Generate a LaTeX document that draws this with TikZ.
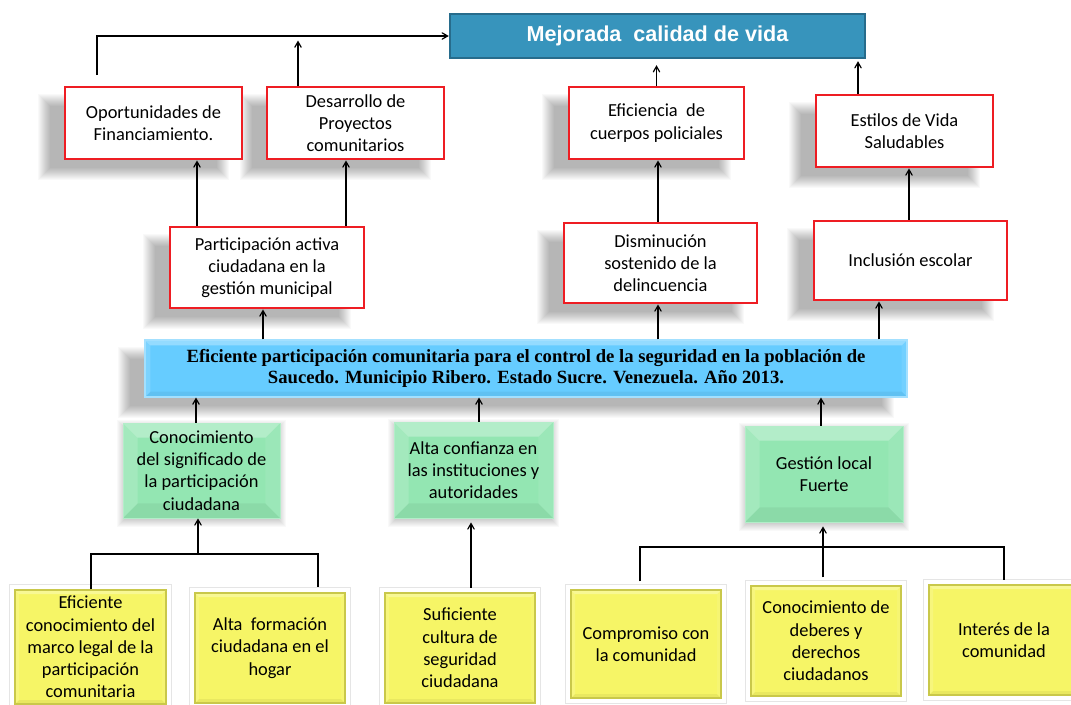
\documentclass[tikz,border=0pt]{standalone}
\usepackage{fontspec}
\setmainfont{Carlito}
\newfontfamily\arialfont{Liberation Sans}
\newfontfamily\timesfont{Liberation Serif}
\usetikzlibrary{shapes}
\usetikzlibrary{arrows}
\usetikzlibrary{calc,backgrounds}

\definecolor{rojo}{HTML}{EE1D23}
\definecolor{azul}{HTML}{3794BC}
\definecolor{azulb}{HTML}{276C8C}
\definecolor{celeste}{HTML}{66CCFF}
\definecolor{verde}{HTML}{93E6B2}
\definecolor{amarillo}{HTML}{F6F566}
\definecolor{amarillob}{HTML}{C9C84A}

\begin{document}
\begin{tikzpicture}[x=.75pt,y=-.75pt,
	every node/.style={align=center,inner sep=0pt,font=\fontsize{13.8}{16.7}\selectfont},
	sz/.style 2 args={minimum width=#1*.75pt,minimum height=#2*.75pt},
	bisel/.style={path picture={
		\coordinate (bnw) at (path picture bounding box.north west);
		\coordinate (bse) at (path picture bounding box.south east);
		\coordinate (bne) at (bnw -| bse);
		\coordinate (bsw) at (bse -| bnw);
		\fill[white,opacity=.3] (bnw) -- (bne) -- ([shift={(-#1,-#1)}]bne) -- ([shift={(#1,-#1)}]bnw) -- cycle;
		\fill[white,opacity=.15] (bnw) -- (bsw) -- ([shift={(#1,#1)}]bsw) -- ([shift={(#1,-#1)}]bnw) -- cycle;
		\fill[white,opacity=.08] (bse) -- (bne) -- ([shift={(-#1,-#1)}]bne) -- ([shift={(-#1,#1)}]bse) -- cycle;
		\fill[black,opacity=.05] (bse) -- (bsw) -- ([shift={(#1,#1)}]bsw) -- ([shift={(-#1,#1)}]bse) -- cycle;
	}},
	efecto/.style={draw=rojo,line width=2.2pt,fill=white},
	causa/.style={fill=verde,draw=verde!70!white,line width=.6pt,bisel=11pt},
	raiz/.style={fill=amarillo,draw=amarillob,line width=.8pt,bisel=3pt,
		preaction={draw=black!10,line width=8.5pt},preaction={draw=white,line width=7.5pt}},
	flecha/.style={->,>=angle 60,line width=.9pt},
	linea/.style={line width=.9pt}
	]
	\path[use as bounding box] (0,0) rectangle (1071,704);

	\node[fill=azul,draw=azulb,line width=1.8pt,sz={415}{44},text=white,font=\arialfont\bfseries\fontsize{16.2}{19}\selectfont]
		(titulo) at (657.5,36) {Mejorada\ \ calidad de vida};

	\node[efecto,sz={177}{72}] (opor) at (153.5,123) {Oportunidades de\\Financiamiento.};
	\node[efecto,sz={177}{72}] (desa) at (355.5,123) {Desarrollo de\\Proyectos\\comunitarios};
	\node[efecto,sz={175}{72}] (efic) at (656.5,123) {Eficiencia\ \ de\\cuerpos policiales};
	\node[efecto,sz={177}{72}] (esti) at (904.5,131) {Estilos de Vida\\Saludables};
	\node[efecto,sz={194}{81}] (part) at (267,267.5) {Participación activa\\ciudadana en la\\gestión municipal};
	\node[efecto,sz={193}{80}] (dism) at (660.5,263) {Disminución\\sostenido de la\\delincuencia};
	\node[efecto,sz={193}{79}] (incl) at (910.5,260.5) {Inclusión escolar};

	\node[fill=celeste,draw=celeste!60!white,line width=.8pt,sz={762}{57},bisel=4pt,
		font=\timesfont\bfseries\fontsize{14}{15.8}\selectfont]
		(cent) at (526,368.5) {Eficiente participación comunitaria para el control de la seguridad en la población de\\Saucedo. Municipio Ribero. Estado Sucre. Venezuela. Año 2013.};

	\node[causa,sz={157}{95}] (cono) at (201.5,470.5) {Conocimiento\\del significado de\\la participación\\ciudadana};
	\node[causa,sz={159}{96}] (alta) at (473.5,470) {Alta confianza en\\las instituciones y\\autoridades};
	\node[causa,sz={158}{96}] (gest) at (824,474) {Gestión local\\Fuerte};

	\node[raiz,sz={151}{114}] (efi) at (90.5,647) {Eficiente\\conocimiento del\\marco legal de la\\participación\\comunitaria};
	\node[raiz,sz={150}{110}] (alfo) at (270,648) {Alta\ \ formación\\ciudadana en el\\hogar};
	\node[raiz,sz={150}{110}] (sufi) at (460,648) {Suficiente\\cultura de\\seguridad\\ciudadana};
	\node[raiz,sz={150}{108}] (comp) at (646,644) {Compromiso con\\la comunidad};
	\node[raiz,sz={150}{110}] (codd) at (826,641) {Conocimiento de\\deberes y\\derechos\\ciudadanos};
	\node[raiz,sz={150}{110}] (inte) at (1004,640) {Interés de la\\comunidad};

	% sombras difusas
	\begin{scope}[on background layer]
		\fill[white] (0,0) rectangle (1071,704);
		\foreach \n/\dx/\dy/\b in {opor/-20/14/11,desa/-20/14/11,efic/-20/14/11,esti/-20/14/11,
				part/-20/14/11,dism/-20/14/11,incl/-20/14/11,cent/-20/14/11,cono/0/3/3,alta/0/3/3,gest/0/3/3}
			\foreach \k [evaluate=\k as \s using \k*\b/6] in {-6,...,6}
				\fill[black,opacity=.024] ($(\n.north west)+(\dx+\s,\dy+\s)$)
					rectangle ($(\n.south east)+(\dx-\s,\dy-\s)$);
	\end{scope}

	\coordinate (ini) at (97,75);
	\draw[flecha] (ini) |- (titulo.west);
	\draw[flecha] (298,0 |- desa.north) -- ++(0,-45);
	\draw[flecha,shorten >=4.5pt] (efic.north) -- (efic.north |- titulo.south);
	\draw[flecha,shorten >=1.5pt] (858,0 |- esti.north) -- (858,0 |- titulo.south);

	\draw[flecha] (197,0 |- part.north) -- (197,0 |- opor.south);
	\draw[flecha] (346,0 |- part.north) -- (346,0 |- desa.south);
	\draw[flecha] (658,0 |- dism.north) -- (658,0 |- efic.south);
	\draw[flecha] (909,0 |- incl.north) -- (909,0 |- esti.south);

	\draw[flecha] (263,0 |- cent.north) -- (263,0 |- part.south);
	\draw[flecha] (658,0 |- cent.north) -- (658,0 |- dism.south);
	\draw[flecha] (879,0 |- cent.north) -- (879,0 |- incl.south);

	\draw[flecha] (196,0 |- cono.north) -- (196,0 |- cent.south);
	\draw[flecha] (479,0 |- alta.north) -- (479,0 |- cent.south);
	\draw[flecha] (821,0 |- gest.north) -- (821,0 |- cent.south);

	\coordinate (u1) at (198,554);
	\draw[linea,shorten >=4pt] (91,0 |- efi.north) |- (u1) -| (318,0 |- alfo.north);
	\draw[flecha] (u1) -- (198,0 |- cono.south);
	\draw[flecha,shorten <=3.5pt,shorten >=3pt] (471,0 |- sufi.north) -- (471,0 |- alta.south);

	\coordinate (u2) at (823,547);
	\draw[linea,shorten <=6pt,shorten >=3.5pt] (640,0 |- comp.north) |- (u2) -| (1004,0 |- inte.north);
	\draw[flecha,shorten <=6pt,shorten >=3pt] (823,0 |- codd.north) -- (823,0 |- gest.south);
\end{tikzpicture}
\end{document}
